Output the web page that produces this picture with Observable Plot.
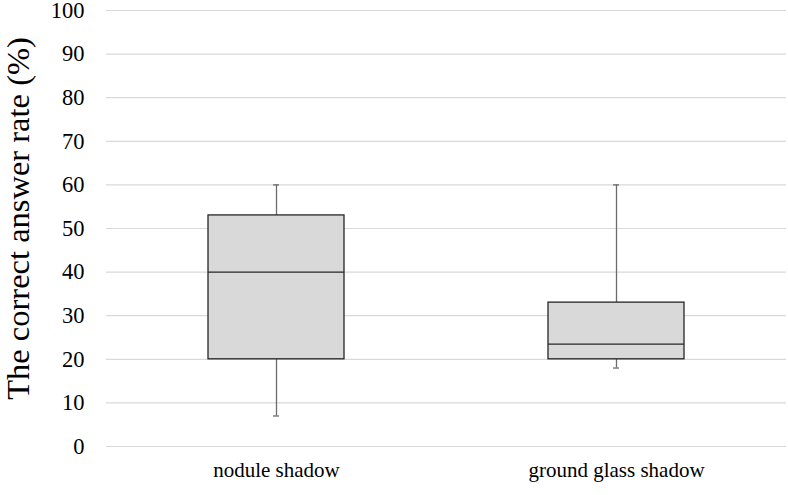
<!DOCTYPE html>
<html>
<head>
<meta charset="utf-8">
<script src="https://cdn.jsdelivr.net/npm/d3@7"></script>
<script src="https://cdn.jsdelivr.net/npm/@observablehq/plot@0.6"></script>
<style>
  html, body { margin: 0; padding: 0; background: #fff; }
</style>
</head>
<body>
<div id="chart"></div>
<script>
const categories = ["nodule shadow", "ground glass shadow"];
const whiskerLow = [7, 18];
const q1 = [20, 20];
const median = [40, 23.5];
const q3 = [53, 33];
const whiskerHigh = [60, 60];
const yTicks = [0, 10, 20, 30, 40, 50, 60, 70, 80, 90, 100];
const yLabel = "The correct answer rate (%)";

const rows = categories.map((c, i) => ({
  cat: c, lo: whiskerLow[i], q1: q1[i], med: median[i], q3: q3[i], hi: whiskerHigh[i]
}));

const font = "'Liberation Serif', 'Times New Roman', serif";

const chart = Plot.plot({
  width: 788,
  height: 495,
  marginLeft: 106,
  marginRight: 2,
  marginTop: 10,
  marginBottom: 49,
  style: { fontFamily: font, color: "#000", background: "#fff", overflow: "visible" },
  x: { domain: categories, paddingInner: 0.6, paddingOuter: 0.3, axis: null },
  y: { domain: [0, 100], axis: null },
  marks: [
    Plot.gridY(yTicks, { stroke: "#d9d9d9", strokeOpacity: 1, strokeWidth: 1.2 }),
    Plot.axisY(yTicks, { tickSize: 0, tickPadding: 22, fontSize: 22.5, label: null, fill: "#000" }),
    Plot.axisX({ tickSize: 0, tickPadding: 16, fontSize: 21, label: null, fill: "#000" }),
    Plot.ruleX(rows, { x: "cat", y1: "q3", y2: "hi", stroke: "#6b6b6b", strokeWidth: 1.3 }),
    Plot.ruleX(rows, { x: "cat", y1: "lo", y2: "q1", stroke: "#6b6b6b", strokeWidth: 1.3 }),
    Plot.tickY(rows, { x: "cat", y: "hi", insetLeft: 65, insetRight: 65, stroke: "#6b6b6b", strokeWidth: 1.3 }),
    Plot.tickY(rows, { x: "cat", y: "lo", insetLeft: 65, insetRight: 65, stroke: "#6b6b6b", strokeWidth: 1.3 }),
    Plot.barY(rows, { x: "cat", y1: "q1", y2: "q3", fill: "#d9d9d9", stroke: "#262626", strokeWidth: 1.3 }),
    Plot.tickY(rows, { x: "cat", y: "med", stroke: "#262626", strokeWidth: 1.3 }),
    Plot.text([yLabel], {
      text: d => d, frameAnchor: "left", rotate: -90, lineAnchor: "bottom", textAnchor: "middle",
      dx: -78, dy: -10, fontSize: 32.5, fontFamily: font, fill: "#000"
    })
  ]
});
document.getElementById("chart").appendChild(chart);
</script>
</body>
</html>
